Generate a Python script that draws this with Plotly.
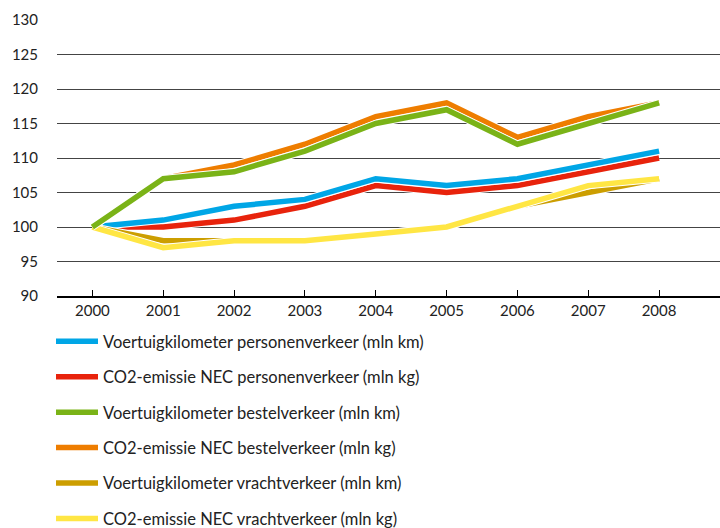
import plotly.graph_objects as go

# Index numbers (2000 = 100)
years = [2000, 2001, 2002, 2003, 2004, 2005, 2006, 2007, 2008]

vkm_personen = [100, 101, 103, 104, 107, 106, 107, 109, 111]
co2_personen = [100, 100, 101, 103, 106, 105, 106, 108, 110]
vkm_bestel = [100, 107, 108, 111, 115, 117, 112, 115, 118]
co2_bestel = [100, 107, 109, 112, 116, 118, 113, 116, 118]
vkm_vracht = [100, 98, 98, 98, 99, 100, 103, 105, 107]
co2_vracht = [100, 97, 98, 98, 99, 100, 103, 106, 107]

names = [
    "Voertuigkilometer personenverkeer (mln km)",
    "CO2-emissie NEC personenverkeer (mln kg)",
    "Voertuigkilometer bestelverkeer (mln km)",
    "CO2-emissie NEC bestelverkeer (mln kg)",
    "Voertuigkilometer vrachtverkeer (mln km)",
    "CO2-emissie NEC vrachtverkeer (mln kg)",
]
series = [vkm_personen, co2_personen, vkm_bestel, co2_bestel, vkm_vracht, co2_vracht]
colors = ["#00a6e6", "#e8230c", "#7ab317", "#ee7d00", "#cc9e00", "#ffe644"]

y_ticks = [90, 95, 100, 105, 110, 115, 120, 125, 130]

# drawing order (later = on top)
draw_order = [1, 0, 3, 4, 5, 2]

fig = go.Figure()
for i in draw_order:
    # thin white halo beneath each line
    fig.add_trace(go.Scatter(
        x=years, y=series[i], mode="lines",
        line=dict(color="white", width=7.5),
        showlegend=False, hoverinfo="skip",
    ))
    fig.add_trace(go.Scatter(
        x=years, y=series[i], mode="lines", name=names[i],
        line=dict(color=colors[i], width=5.5),
        legendrank=i + 1, legendgroup=f"g{i}",
    ))

font_family = "Lato, Open Sans, sans-serif"

fig.update_layout(
    width=720, height=528,
    margin=dict(l=57, r=0, t=20, b=232, autoexpand=False),
    paper_bgcolor="white", plot_bgcolor="white",
    font=dict(family=font_family, size=15, color="#222"),
    xaxis=dict(
        range=[1999.5, 2008.86],
        tickmode="array", tickvals=years, ticktext=[str(y) for y in years],
        showgrid=False, zeroline=False,
        showline=True, linecolor="#000", linewidth=1.5,
        ticks="inside", ticklen=6, tickcolor="#000", tickwidth=1,
        tickfont=dict(size=15, color="#222"),
        ticklabelstandoff=0,
        fixedrange=True,
    ),
    yaxis=dict(
        range=[90, 130],
        tickmode="array", tickvals=y_ticks,
        showgrid=True, gridcolor="#444", gridwidth=1,
        zeroline=False, showline=False, ticks="",
        tickfont=dict(size=15, color="#222"),
        ticklabelstandoff=18,
        fixedrange=True,
    ),
    legend=dict(
        x=-6 / 663, xanchor="left", y=-28 / 276, yanchor="top",
        orientation="v", traceorder="grouped",
        tracegroupgap=11, itemwidth=42,
        font=dict(size=16.5, color="#222"),
        bgcolor="rgba(0,0,0,0)",
    ),
    showlegend=True,
)

fig.write_html("out.html")
